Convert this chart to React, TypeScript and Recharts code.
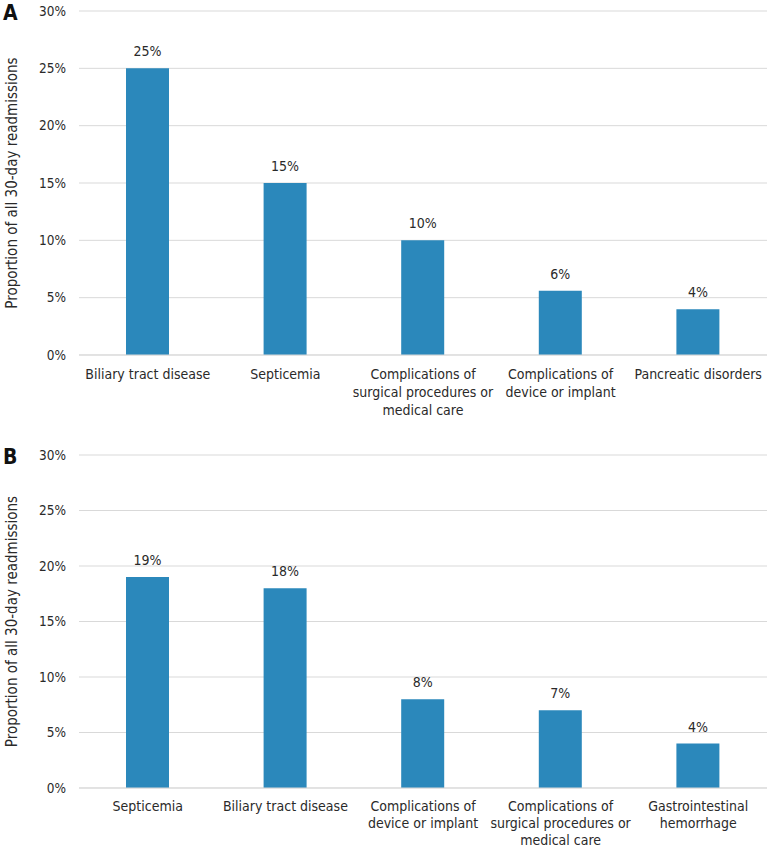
import { BarChart, Bar, XAxis, YAxis, CartesianGrid, LabelList, Label } from "recharts";

// category names, line breaks as in the original figure
const categoriesA = [
  "Biliary tract disease",
  "Septicemia",
  "Complications of\nsurgical procedures or\nmedical care",
  "Complications of\ndevice or implant",
  "Pancreatic disorders",
];
const valuesA = [25, 15, 10, 5.6, 4];
const labelsA = ["25%", "15%", "10%", "6%", "4%"];

const categoriesB = [
  "Septicemia",
  "Biliary tract disease",
  "Complications of\ndevice or implant",
  "Complications of\nsurgical procedures or\nmedical care",
  "Gastrointestinal\nhemorrhage",
];
const valuesB = [19, 18, 8, 7, 4];
const labelsB = ["19%", "18%", "8%", "7%", "4%"];

const yTicks = [0, 5, 10, 15, 20, 25, 30];

const FONT = "'DejaVu Sans Condensed', 'DejaVu Sans', sans-serif";
const TEXT = "#2a2a2a";
const BLUE = "#2b88bb";

const XTick = (props: any) => {
  const { x, y, payload, lineGap = 18, firstDy = 10 } = props;
  const lines = String(payload.value).split("\n");
  return (
    <text x={x} y={y} textAnchor="middle" fill={TEXT} style={{ fontSize: 14, fontFamily: FONT }}>
      {lines.map((l, i) => (
        <tspan key={i} x={x} dy={i === 0 ? firstDy : lineGap}>
          {l}
        </tspan>
      ))}
    </text>
  );
};

const YTitle = (props: any) => {
  const { viewBox } = props;
  const cy = viewBox.y + viewBox.height / 2;
  return (
    <text
      x={12}
      y={cy}
      transform={`rotate(-90, 12, ${cy})`}
      textAnchor="middle"
      dominantBaseline="central"
      fill={TEXT}
      style={{ fontSize: 15, fontFamily: FONT }}
    >
      Proportion of all 30-day readmissions
    </text>
  );
};

function Panel({
  letter,
  categories,
  values,
  labels,
  height,
  top,
  xHeight,
  letterTop,
  lineGap,
  firstDy,
}: {
  letter: string;
  categories: string[];
  values: number[];
  labels: string[];
  height: number;
  top: number;
  xHeight: number;
  letterTop: number;
  lineGap: number;
  firstDy: number;
}) {
  const data = categories.map((name, i) => ({ name, value: values[i], label: labels[i] }));
  return (
    <div style={{ position: "relative", width: 767, height }}>
      <div
        style={{
          position: "absolute",
          left: 3,
          top: letterTop,
          fontFamily: FONT,
          fontWeight: "bold",
          fontSize: 21,
          lineHeight: "24px",
          color: "#111",
        }}
      >
        {letter}
      </div>
      <BarChart
        width={767}
        height={height}
        data={data}
        margin={{ top, right: 0, bottom: 0, left: 0 }}
      >
        <CartesianGrid vertical={false} stroke="#d9d9d9" />
        <XAxis
          dataKey="name"
          height={xHeight}
          axisLine={{ stroke: "#d9d9d9" }}
          tickLine={false}
          tickSize={0}
          tickMargin={14}
          interval={0}
          tick={<XTick lineGap={lineGap} firstDy={firstDy} />}
        />
        <YAxis
          width={79}
          domain={[0, 30]}
          ticks={yTicks}
          axisLine={false}
          tickLine={false}
          tickMargin={7}
          tickFormatter={(v) => `${v}%`}
          tick={{ fill: TEXT, fontSize: 13.5, fontFamily: FONT }}
        >
          <Label content={<YTitle />} />
        </YAxis>
        <Bar dataKey="value" fill={BLUE} barSize={43} isAnimationActive={false}>
          <LabelList
            dataKey="label"
            position="top"
            offset={12}
            fill={TEXT}
            style={{ fontSize: 14, fontFamily: FONT }}
          />
        </Bar>
      </BarChart>
    </div>
  );
}

export default function App() {
  return (
    <div style={{ position: "absolute", left: 0, top: 0, width: 767, height: 849, background: "#fff" }}>
      <Panel letter="A" categories={categoriesA} values={valuesA} labels={labelsA} height={424} top={11} xHeight={69} letterTop={1} lineGap={18} firstDy={10} />
      <Panel letter="B" categories={categoriesB} values={valuesB} labels={labelsB} height={425} top={31} xHeight={61} letterTop={21} lineGap={17} firstDy={9} />
    </div>
  );
}
